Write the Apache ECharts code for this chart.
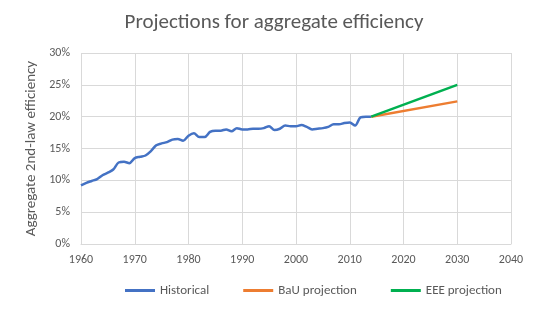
<!DOCTYPE html>
<html>
<head>
<meta charset="utf-8">
<script src="https://cdn.jsdelivr.net/npm/echarts@6/dist/echarts.min.js"></script>
<style>html,body{margin:0;padding:0;background:#fff}#c{width:548px;height:309px}</style>
</head>
<body>
<div id="c"></div>
<script>
var histYears = [1960,1961,1962,1963,1964,1965,1966,1967,1968,1969,1970,1971,1972,1973,1974,1975,1976,1977,1978,1979,1980,1981,1982,1983,1984,1985,1986,1987,1988,1989,1990,1991,1992,1993,1994,1995,1996,1997,1998,1999,2000,2001,2002,2003,2004,2005,2006,2007,2008,2009,2010,2011,2012,2013,2014];
var histValues = [9.2,9.6,9.9,10.2,10.8,11.2,11.7,12.8,12.9,12.7,13.5,13.7,13.9,14.6,15.5,15.8,16.0,16.4,16.5,16.2,17.0,17.4,16.8,16.8,17.6,17.8,17.8,18.0,17.7,18.2,18.0,18.0,18.1,18.1,18.2,18.5,17.9,18.1,18.6,18.5,18.5,18.7,18.4,18.0,18.1,18.2,18.4,18.8,18.8,19.0,19.1,18.6,19.9,20.0,20.0];
var projYears = [2014, 2030];
var bauValues = [20.0, 22.4];
var eeeValues = [20.0, 25.0];
var yTicks = [0,5,10,15,20,25,30];

function pairs(xs, ys){ return xs.map(function(x,i){ return [x, ys[i]]; }); }

var font = 'Calibri, Carlito, "Liberation Sans", "Open Sans", sans-serif';
var chart = echarts.init(document.getElementById('c'));
chart.setOption({
  animation: false,
  title: {
    text: 'Projections for aggregate efficiency',
    left: 'center', top: 7,
    textStyle: {fontFamily: font, fontSize: 21, fontWeight: 'normal', color: '#595959'}
  },
  grid: {left: 81, right: 37, top: 53, bottom: 65},
  legend: {
    bottom: 7, left: 120, itemGap: 34, itemWidth: 30, itemHeight: 3,
    icon: 'rect',
    textStyle: {fontFamily: font, fontSize: 13, color: '#595959'},
    data: ['Historical', 'BaU projection', 'EEE projection']
  },
  xAxis: {
    type: 'value', min: 1960, max: 2040, interval: 10,
    axisLine: {lineStyle: {color: '#d9d9d9'}},
    axisTick: {show: false},
    axisLabel: {fontFamily: font, fontSize: 12, color: '#595959', margin: 10, formatter: function(v){ return String(v); }},
    splitLine: {show: true, lineStyle: {color: '#d9d9d9'}}
  },
  yAxis: {
    type: 'value', min: 0, max: 30, interval: 5,
    name: 'Aggregate 2nd-law efficiency', nameLocation: 'middle', nameGap: 42,
    nameTextStyle: {fontFamily: font, fontSize: 15, color: '#595959'},
    axisLine: {show: false},
    axisTick: {show: false},
    axisLabel: {fontFamily: font, fontSize: 12, color: '#595959', margin: 11, formatter: function(v){ return v + '%'; }},
    splitLine: {show: true, lineStyle: {color: '#d9d9d9'}}
  },
  series: [
    {name: 'Historical', type: 'line', data: pairs(histYears, histValues), showSymbol: false, smooth: 0.3,
     lineStyle: {color: '#4472C4', width: 2.5}, itemStyle: {color: '#4472C4'}},
    {name: 'BaU projection', type: 'line', data: pairs(projYears, bauValues), showSymbol: false,
     lineStyle: {color: '#ED7D31', width: 2.5}, itemStyle: {color: '#ED7D31'}},
    {name: 'EEE projection', type: 'line', data: pairs(projYears, eeeValues), showSymbol: false,
     lineStyle: {color: '#00B050', width: 2.5}, itemStyle: {color: '#00B050'}}
  ]
});
</script>
</body>
</html>
